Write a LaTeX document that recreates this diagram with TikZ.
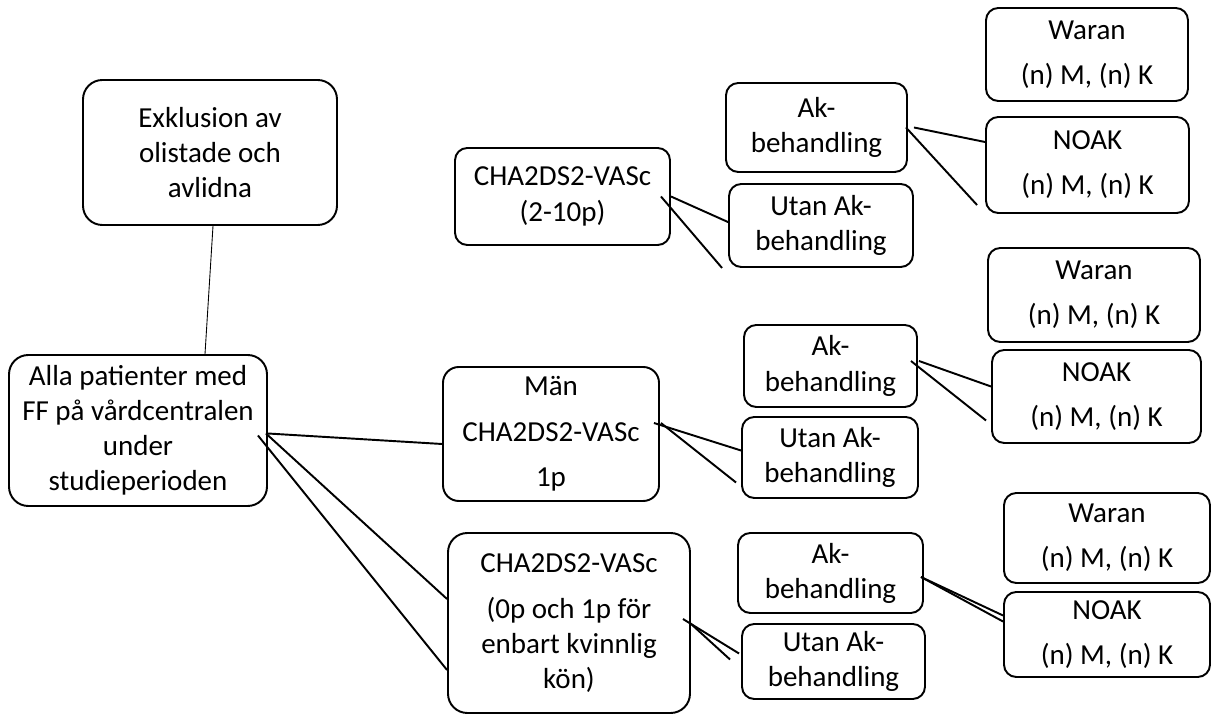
\documentclass[tikz,border=0pt]{standalone}
\usepackage{fontspec}
\setmainfont{Carlito}
\usepackage{tikz}
\usetikzlibrary{calc}
\tikzset{
  ruta/.style={draw,line width=1.1pt,rounded corners=7pt,align=center,inner sep=0pt,
    font=\fontsize{16.5}{20}\selectfont},
  storruta/.style={ruta,rounded corners=11pt},
  linje/.style={line width=1.1pt},
  tunnlinje/.style={line width=0.5pt}
}

\begin{document}
\begin{tikzpicture}[x=0.02cm,y=-0.02cm]
\useasboundingbox (0,0) rectangle (1211,715);

% vänstra kolumnen
\node[storruta,minimum width=254*0.02cm,minimum height=145*0.02cm] (excl) at (210,152.5)
  {Exklusion av\\olistade och\\avlidna};
\node[storruta,minimum width=258*0.02cm,minimum height=151*0.02cm] (alla) at (138,430.5)
  {Alla patienter med\\FF på vårdcentralen\\under\\studieperioden};

% CHA2DS2-VASc grupper
\node[ruta,minimum width=215*0.02cm,minimum height=97*0.02cm] (chaA) at (562.5,196.5)
  {CHA2DS2-VASc\\(2-10p)};
\node[ruta,rounded corners=9pt,minimum width=216*0.02cm,minimum height=134*0.02cm] (man) at (551,434)
  {Män\\[6pt]CHA2DS2-VASc\\[6pt]1p};
\node[storruta,minimum width=242*0.02cm,minimum height=180*0.02cm] (chaC) at (569,623)
  {CHA2DS2-VASc\\[6pt](0p och 1p för\\enbart kvinnlig\\kön)};

% behandling
\node[ruta,minimum width=181*0.02cm,minimum height=89*0.02cm] (akA) at (816.5,127.5) {Ak-\\behandling};
\node[ruta,minimum width=184*0.02cm,minimum height=83*0.02cm] (utA) at (821,225.5) {Utan Ak-\\behandling};
\node[ruta,minimum width=173*0.02cm,minimum height=82*0.02cm] (akB) at (830.5,366) {Ak-\\behandling};
\node[ruta,minimum width=176*0.02cm,minimum height=81*0.02cm] (utB) at (830,457.5) {Utan Ak-\\behandling};
\node[ruta,minimum width=185*0.02cm,minimum height=80*0.02cm] (akC) at (830.5,573) {Ak-\\behandling};
\node[ruta,minimum width=183*0.02cm,minimum height=75*0.02cm] (utC) at (833.5,661.5) {Utan Ak-\\behandling};

% läkemedel
\node[ruta,minimum width=202*0.02cm,minimum height=93*0.02cm] (warA) at (1087,54.5) {Waran\\[5.5pt](n) M, (n) K};
\node[ruta,minimum width=203*0.02cm,minimum height=96*0.02cm] (noA) at (1087.5,165) {NOAK\\[5.5pt](n) M, (n) K};
\node[ruta,minimum width=212*0.02cm,minimum height=94*0.02cm] (warB) at (1094,295) {Waran\\[5.5pt](n) M, (n) K};
\node[ruta,minimum width=209*0.02cm,minimum height=93*0.02cm] (noB) at (1096.5,396.5) {NOAK\\[5.5pt](n) M, (n) K};
\node[ruta,minimum width=206*0.02cm,minimum height=90*0.02cm] (warC) at (1107,538) {Waran\\[5.5pt](n) M, (n) K};
\node[ruta,minimum width=206*0.02cm,minimum height=85*0.02cm] (noC) at (1107,634.5) {NOAK\\[5.5pt](n) M, (n) K};

% förbindelser
\draw[tunnlinje] ($(excl.south)+(3,0)$) -- ($(alla.north)+(67,0)$);
\draw[linje] ($(alla.east)+(0,3)$) -- ($(man.west)+(0,10)$);
\draw[linje] ($(alla.east)+(-2,3)$) -- ($(chaC.west)+(0,-24)$);
\draw[linje] ($(alla.east)+(-10,5)$) -- ($(chaC.west)+(0,47)$);

\draw[linje] (chaA.east) -- ($(utA.west)+(1,-3)$);
\draw[linje] ($(chaA.east)+(-10,0)$) -- ($(utA.south west)+(-6,0)$);
\draw[linje] ($(man.east)+(-6,-11)$) -- ($(utB.west)+(0,-7)$);
\draw[linje] ($(man.east)+(1,-11)$) -- ($(utB.west)+(-5,25)$);
\draw[linje] ($(chaC.east)+(-8,-4)$) -- ($(utC.west)+(-2,-8)$);
\draw[linje] ($(chaC.east)+(-1,0)$) -- ($(utC.west)+(-11,-2)$);

\draw[linje] ($(akA.east)+(6,0)$) -- ($(noA.west)+(0,-23)$);
\draw[linje] ($(akA.east)+(-2,0)$) -- ($(noA.west)+(-8,40)$);
\draw[linje] ($(akB.east)+(1,-5)$) -- ($(noB.west)+(0,-10)$);
\draw[linje] ($(akB.east)+(-7,-5)$) -- ($(noB.west)+(-5,24)$);
\draw[linje] ($(akC.east)+(-3,4)$) -- ($(noC.west)+(0,-19)$);
\draw[linje] ($(akC.east)+(-3,4)$) -- ($(noC.west)+(0,-13)$);

\end{tikzpicture}
\end{document}
